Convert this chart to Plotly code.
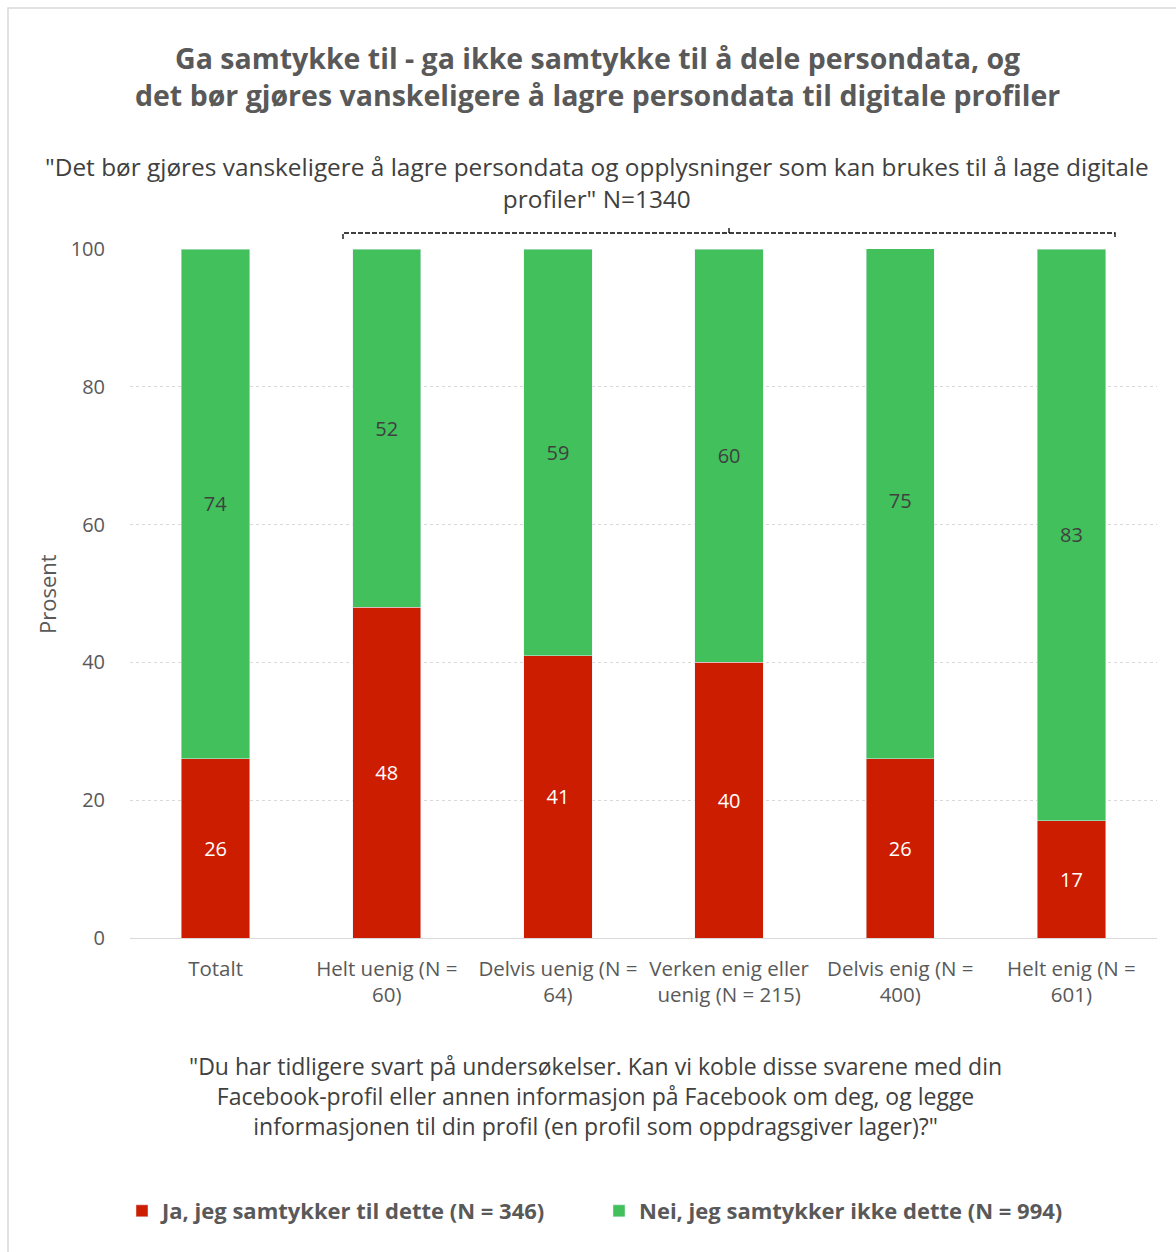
import plotly.graph_objects as go

categories = ["Totalt", "Helt uenig (N =<br>60)", "Delvis uenig (N =<br>64)",
              "Verken enig eller<br>uenig (N = 215)", "Delvis enig (N =<br>400)", "Helt enig (N =<br>601)"]
ja_values = [26, 48, 41, 40, 26, 17]
nei_values = [74, 52, 59, 60, 75, 83]
series_names = ["Ja, jeg samtykker til dette (N = 346)", "Nei, jeg samtykker ikke dette (N = 994)"]
y_ticks = [0, 20, 40, 60, 80, 100]

W, H = 1176, 1252
L, R, T, B = 130, 19, 249, 314
PW, PH = W - L - R, H - T - B

def px(x):
    return (x - L) / PW

def py(y):
    return (H - B - y) / PH

FONT = "Open Sans"
RED = "#CD1D00"
GREEN = "#41C05B"

fig = go.Figure()
fig.add_trace(go.Bar(
    x=categories, y=ja_values, name=f"<b>{series_names[0]}</b>", marker_color=RED,
    text=ja_values, textposition="inside", insidetextanchor="middle",
    textfont=dict(color="white", size=20, family=FONT), textangle=0,
))
fig.add_trace(go.Bar(
    x=categories, y=nei_values, name=f"<b>{series_names[1]}</b>", marker_color=GREEN,
    text=nei_values, textposition="inside", insidetextanchor="middle",
    textfont=dict(color="#404040", size=20, family=FONT), textangle=0,
))

fig.update_layout(
    width=W, height=H, barmode="stack", bargap=0.6,
    margin=dict(l=L, r=R, t=T, b=B, autoexpand=False),
    paper_bgcolor="white", plot_bgcolor="white",
    font=dict(family=FONT, color="#595959"),
    uniformtext=dict(minsize=8, mode="show"),
    showlegend=True,
    legend=dict(orientation="h", x=px(122), y=py(1211), xanchor="left", yanchor="middle",
                font=dict(size=22, color="#595959", family=FONT), entrywidth=432,
                traceorder="normal", itemclick=False),
)
fig.update_yaxes(range=[0, 100], tickvals=y_ticks, showgrid=True, gridcolor="#D9D9D9",
                 griddash="dot", gridwidth=1, zeroline=False, showline=False,
                 tickfont=dict(size=20, color="#595959"), ticklabelstandoff=24)
fig.update_xaxes(showline=True, linecolor="#D9D9D9", linewidth=1, showgrid=False,
                 tickfont=dict(size=20.5, color="#595959"), ticklabelstandoff=12)

# Title
fig.add_annotation(text="<b>Ga samtykke til - ga ikke samtykke til å dele persondata, og<br>det bør gjøres vanskeligere å lagre persondata til digitale profiler</b>",
                   xref="paper", yref="paper", x=px(597), y=py(77), xanchor="center", yanchor="middle",
                   showarrow=False, font=dict(size=28.5, color="#595959", family=FONT), align="center")
# Subtitle
fig.add_annotation(text="\"Det bør gjøres vanskeligere å lagre persondata og opplysninger som kan brukes til å lage digitale<br>profiler\" N=1340",
                   xref="paper", yref="paper", x=px(597), y=py(182), xanchor="center", yanchor="middle",
                   showarrow=False, font=dict(size=24.4, color="#404040", family=FONT), align="center")
# Y axis title
fig.add_annotation(text="Prosent", xref="paper", yref="paper", x=px(47), y=py(594),
                   xanchor="center", yanchor="middle", textangle=-90, showarrow=False,
                   font=dict(size=22, color="#595959", family=FONT))
# Bottom question
fig.add_annotation(text="\"Du har tidligere svart på undersøkelser. Kan vi koble disse svarene med din<br>Facebook-profil eller annen informasjon på Facebook om deg, og legge<br>informasjonen til din profil (en profil som oppdragsgiver lager)?\"",
                   xref="paper", yref="paper", x=px(595), y=py(1096), xanchor="center", yanchor="middle",
                   showarrow=False, font=dict(size=23, color="#404040", family=FONT), align="center")

# Bracket
x0, x1, xm, yb = px(343), px(1115), px(729), py(233)
yd, yu = py(239), py(226)
path = (f"M {x0},{yd} L {x0},{yb} L {xm},{yb} L {xm},{yu} M {xm},{yb} L {x1},{yb} L {x1},{yd}")
fig.add_shape(type="path", path=path, xref="paper", yref="paper",
              line=dict(color="black", width=1.3, dash="5px,2px"))

# Frame
fig.add_shape(type="path", xref="paper", yref="paper",
              path=f"M {px(1180)},{py(8)} L {px(8)},{py(8)} L {px(8)},{py(1260)}",
              line=dict(color="#D9D9D9", width=1.5))

fig.write_html("out.html", config={"displayModeBar": False},
               post_script="document.body.style.margin='0';")
